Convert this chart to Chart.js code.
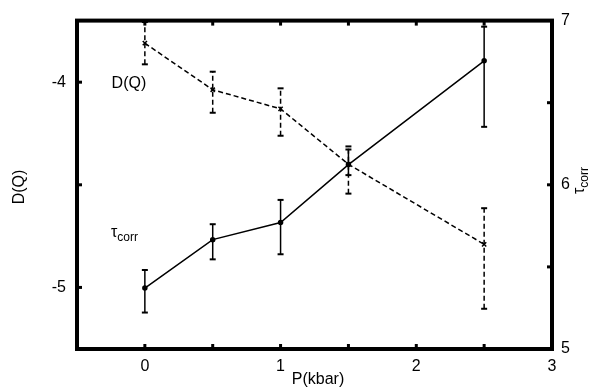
<!DOCTYPE html>
<html>
<head>
<meta charset="utf-8">
<script src="https://cdn.jsdelivr.net/npm/chart.js@4"></script>
<style>
  html, body { margin: 0; padding: 0; background: #fff; }
</style>
</head>
<body>
<canvas id="c" width="598" height="392"></canvas>
<script>
// pressure in kbar
const pressure = [0, 0.5, 1, 1.5, 2.5];
// D(Q), left axis
const dq = [-3.81, -4.037, -4.13, -4.40, -4.79];
const dqLow = [-3.913, -4.149, -4.261, -4.543, -5.104];
const dqHigh = [-3.707, -3.949, -4.030, -4.313, -4.614];
// tau_corr, right axis
const tau = [5.371, 5.666, 5.770, 6.123, 6.755];
const tauLow = [5.222, 5.546, 5.577, 6.059, 6.353];
const tauHigh = [5.481, 5.760, 5.908, 6.215, 6.963];

const xTicks = [0, 0.5, 1, 1.5, 2, 2.5, 3];
const dqTicks = [-5, -4.5, -4];
const tauTicks = [5, 5.5, 6, 6.5, 7];

const FONT = '"Liberation Sans", Arial, Helvetica, sans-serif';

const toPoints = (xs, ys) => xs.map((x, i) => ({ x: x, y: ys[i] }));
const setTicks = vals => scale => { scale.ticks = vals.map(v => ({ value: v })); };
const intLabel = v => Number.isInteger(v) ? String(v) : '';

function drawSubLabel(ctx, x, y, main, sub) {
  ctx.font = '16px ' + FONT;
  ctx.textBaseline = 'alphabetic';
  ctx.textAlign = 'left';
  ctx.fillText(main, x, y);
  const w = ctx.measureText(main).width;
  ctx.font = '12px ' + FONT;
  ctx.fillText(sub, x + w, y + 4);
}

const paperPlugin = {
  id: 'paper',
  afterDatasetsDraw(chart) {
    const ctx = chart.ctx;
    const xs = chart.scales.x;
    chart.data.datasets.forEach(ds => {
      const ys = chart.scales[ds.yAxisID];
      ctx.save();
      ctx.strokeStyle = '#000';
      ds.errLow.forEach((lo, k) => {
        const px = xs.getPixelForValue(pressure[k]);
        const y1 = ys.getPixelForValue(lo);
        const y2 = ys.getPixelForValue(ds.errHigh[k]);
        ctx.lineWidth = 1.5;
        ctx.setLineDash(ds.borderDash || []);
        ctx.beginPath(); ctx.moveTo(px, y1); ctx.lineTo(px, y2); ctx.stroke();
        ctx.setLineDash([]);
        ctx.lineWidth = 2;
        [y1, y2].forEach(yy => {
          ctx.beginPath(); ctx.moveTo(px - 3, yy); ctx.lineTo(px + 3, yy); ctx.stroke();
        });
      });
      ctx.restore();
    });
  },
  afterDraw(chart) {
    const ctx = chart.ctx;
    const a = chart.chartArea;
    const { x, y, y2 } = chart.scales;
    ctx.save();
    ctx.fillStyle = '#000';
    ctx.strokeStyle = '#000';
    // inward tick marks
    ctx.lineWidth = 3;
    xTicks.slice(0, -1).forEach(v => {
      const p = x.getPixelForValue(v);
      ctx.beginPath(); ctx.moveTo(p, a.bottom); ctx.lineTo(p, a.bottom - 5); ctx.stroke();
      ctx.beginPath(); ctx.moveTo(p, a.top); ctx.lineTo(p, a.top + 5); ctx.stroke();
    });
    dqTicks.forEach(v => {
      const p = y.getPixelForValue(v);
      ctx.beginPath(); ctx.moveTo(a.left, p); ctx.lineTo(a.left + 5, p); ctx.stroke();
    });
    tauTicks.slice(1, -1).forEach(v => {
      const p = y2.getPixelForValue(v);
      ctx.beginPath(); ctx.moveTo(a.right, p); ctx.lineTo(a.right - 5, p); ctx.stroke();
    });
    // frame
    ctx.lineWidth = 4;
    ctx.strokeRect(a.left, a.top, a.right - a.left, a.bottom - a.top);

    // axis titles
    ctx.font = '16px ' + FONT;
    ctx.textAlign = 'center';
    ctx.textBaseline = 'middle';
    ctx.fillText('P(kbar)', 318, 380);
    ctx.save();
    ctx.translate(20, 187);
    ctx.rotate(-Math.PI / 2);
    ctx.fillText('D(Q)', 0, 0);
    ctx.restore();
    ctx.save();
    ctx.translate(584, 194);
    ctx.rotate(-Math.PI / 2);
    drawSubLabel(ctx, 0, 0, 'τ', 'corr');
    ctx.restore();

    // in-plot series labels
    ctx.font = '16px ' + FONT;
    ctx.textAlign = 'left';
    ctx.textBaseline = 'middle';
    ctx.fillText('D(Q)', x.getPixelForValue(-0.245), y.getPixelForValue(-4.005));
    drawSubLabel(ctx, x.getPixelForValue(-0.25), y2.getPixelForValue(5.68), 'τ', 'corr');
    ctx.restore();
  }
};

new Chart(document.getElementById('c'), {
  type: 'line',
  data: {
    datasets: [
      {
        label: 'D(Q)',
        data: toPoints(pressure, dq),
        errLow: dqLow,
        errHigh: dqHigh,
        yAxisID: 'y',
        borderColor: '#000',
        backgroundColor: '#000',
        borderWidth: 1.5,
        borderDash: [5, 3],
        pointStyle: 'crossRot',
        pointRadius: 3,
        pointBorderWidth: 1.5,
        tension: 0
      },
      {
        label: 'tau_corr',
        data: toPoints(pressure, tau),
        errLow: tauLow,
        errHigh: tauHigh,
        yAxisID: 'y2',
        borderColor: '#000',
        backgroundColor: '#000',
        borderWidth: 1.5,
        pointStyle: 'circle',
        pointRadius: 2,
        tension: 0
      }
    ]
  },
  options: {
    responsive: false,
    animation: false,
    devicePixelRatio: 1,
    layout: { padding: 0 },
    plugins: { legend: { display: false }, tooltip: { enabled: false } },
    scales: {
      x: {
        type: 'linear', position: 'bottom', min: -0.5, max: 3,
        afterBuildTicks: setTicks(xTicks),
        afterFit: s => { s.height = 43; },
        grid: { display: false, drawTicks: false },
        border: { display: false },
        ticks: { callback: intLabel, padding: 8, color: '#000', font: { family: FONT, size: 16 } }
      },
      xTop: {
        type: 'linear', position: 'top', min: -0.5, max: 3,
        afterFit: s => { s.height = 16; },
        grid: { display: false, drawTicks: false },
        border: { display: false },
        ticks: { display: false }
      },
      y: {
        type: 'linear', position: 'left', min: -5.3, max: -3.7,
        afterBuildTicks: setTicks(dqTicks),
        afterFit: s => { s.width = 77; },
        grid: { display: false, drawTicks: false },
        border: { display: false },
        ticks: { callback: intLabel, padding: 11, color: '#000', font: { family: FONT, size: 16 } }
      },
      y2: {
        type: 'linear', position: 'right', min: 5, max: 7,
        afterBuildTicks: setTicks(tauTicks),
        afterFit: s => { s.width = 46; },
        grid: { display: false, drawTicks: false },
        border: { display: false },
        ticks: { callback: intLabel, padding: 9, color: '#000', font: { family: FONT, size: 16 } }
      }
    }
  },
  plugins: [paperPlugin]
});
</script>
</body>
</html>
